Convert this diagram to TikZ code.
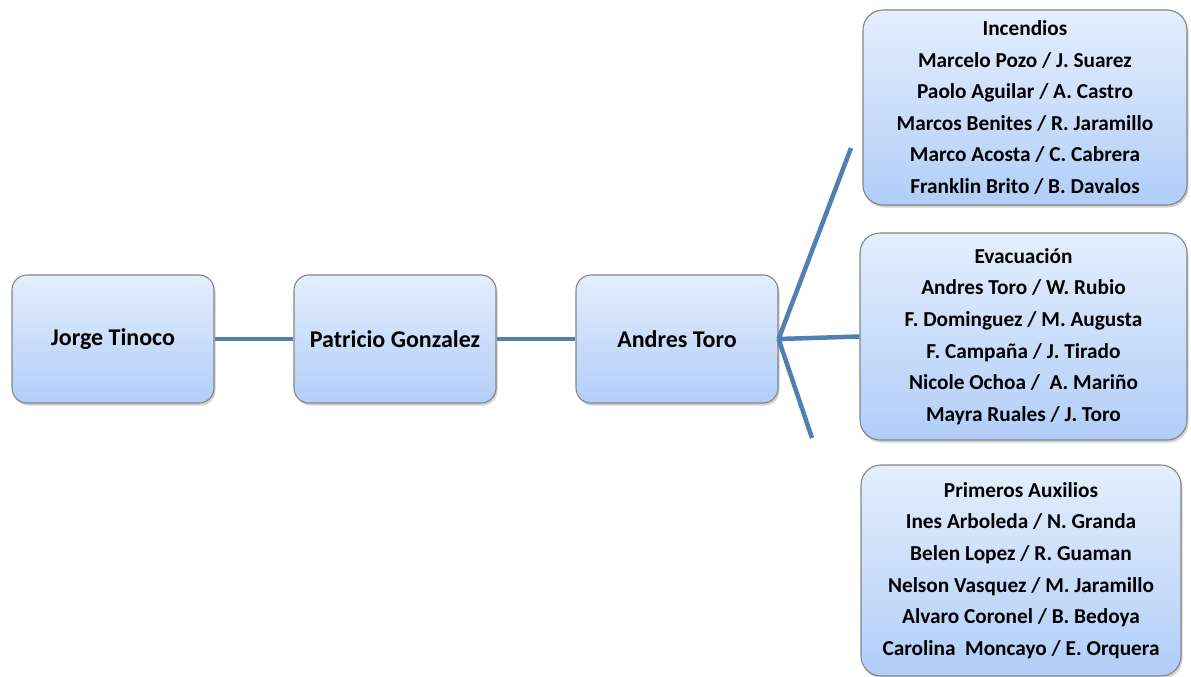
\documentclass[tikz,border=0pt]{standalone}
\usepackage{fontspec}
\setmainfont{Carlito}
\usetikzlibrary{shadows}

\definecolor{boxtop}{HTML}{E4EEFD}
\definecolor{boxbot}{HTML}{B1CEF8}
\definecolor{boxline}{HTML}{858585}
\definecolor{linkblue}{HTML}{4F7FB4}

\tikzset{
  person/.style={draw=boxline, line width=1.1pt, rounded corners=15pt,
    top color=boxtop, bottom color=boxbot, align=center,
    font=\fontsize{24}{30}\selectfont\bfseries,
    drop shadow={shadow xshift=1.5pt, shadow yshift=-2.5pt, opacity=0.3, fill=black!60},
    minimum width=202pt, minimum height=128pt, inner sep=0pt},
  team/.style={person, rounded corners=20pt, font=\fontsize{21.3}{31.6}\selectfont\bfseries},
  link/.style={draw=linkblue, line width=4.5pt}
}

\begin{document}
\begin{tikzpicture}[x=1pt,y=-1pt]
      \useasboundingbox (0,0) rectangle (1191,677);
      \node[person] (jorge) at (113,339) {Jorge Tinoco};
      \node[person] (patricio) at (395,339) {Patricio Gonzalez};
      \node[person] (andres) at (677,339) {Andres Toro};
      \node[team, minimum width=324pt, minimum height=195pt] (incendios) at (1025,107.5)
        {Incendios\\Marcelo Pozo / J. Suarez\\Paolo Aguilar / A. Castro\\Marcos Benites / R. Jaramillo\\Marco Acosta / C. Cabrera\\Franklin Brito / B. Davalos};
      \node[team, minimum width=327pt, minimum height=207pt] (evacuacion) at (1023.5,336.5)
        {Evacuación\\Andres Toro / W. Rubio\\F. Dominguez / M. Augusta\\F. Campaña / J. Tirado\\Nicole Ochoa /\ \ A. Mariño\\Mayra Ruales / J. Toro};
      \node[team, minimum width=320pt, minimum height=211pt] (auxilios) at (1021,570.5)
        {Primeros Auxilios\\Ines Arboleda / N. Granda\\Belen Lopez / R. Guaman\\Nelson Vasquez / M. Jaramillo\\Alvaro Coronel / B. Bedoya\\Carolina\ \ Moncayo / E. Orquera};
    \coordinate (upend) at (851,148);
    \coordinate (downend) at (812,438);
      \draw[link] (jorge.east) -- (patricio.west);
      \draw[link] (patricio.east) -- (andres.west);
      \draw[link] (andres.east) -- (upend);
      \draw[link] (andres.east) -- (evacuacion.west);
      \draw[link] (andres.east) -- (downend);
    \end{tikzpicture}
\end{document}
